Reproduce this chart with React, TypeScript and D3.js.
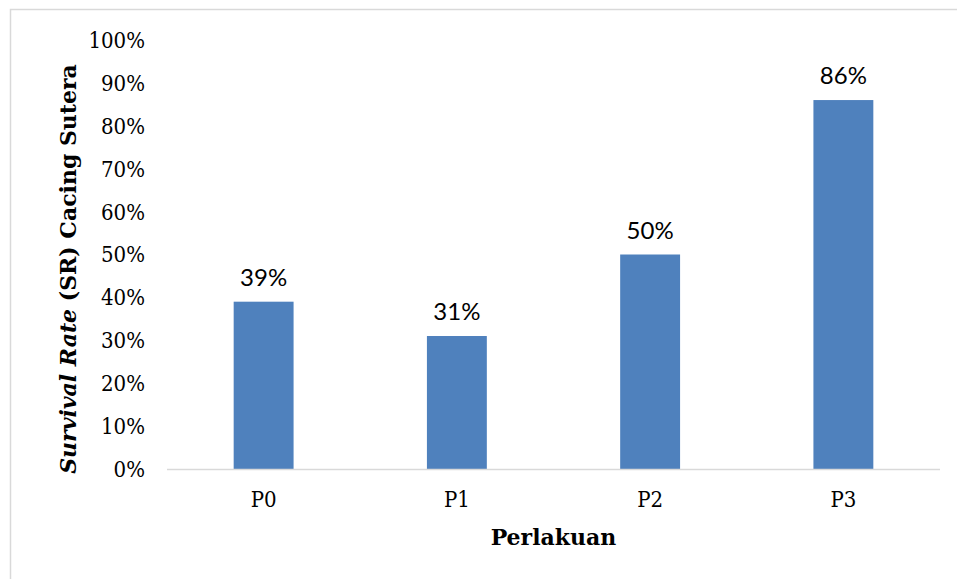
import React, { useEffect, useRef } from 'react';
import * as d3 from 'd3';

// treatments and survival rate of the silk worms
const categories = ['P0', 'P1', 'P2', 'P3'];
const survival = [0.39, 0.31, 0.5, 0.86];
const yTicks = [0, 0.1, 0.2, 0.3, 0.4, 0.5, 0.6, 0.7, 0.8, 0.9, 1];

const W = 957;
const H = 579;

export default function App() {
  const ref = useRef<SVGSVGElement>(null);

  useEffect(() => {
    const svg = d3.select(ref.current);
    svg.selectAll('*').remove();

    // plot area
    const left = 167, right = 940, top = 40, bottom = 469;

    const x = d3.scaleBand().domain(categories).range([left, right]).paddingInner(0.69).paddingOuter(0.345);
    const y = d3.scaleLinear().domain([0, 1]).range([bottom, top]);

    // outer chart border
    svg.append('rect')
      .attr('x', 10.5).attr('y', 9.5)
      .attr('width', 1000).attr('height', 700)
      .attr('fill', 'white').attr('stroke', '#d9d9d9').attr('stroke-width', 1.5);

    // y tick labels
    svg.append('g').selectAll('text')
      .data(yTicks)
      .join('text')
      .attr('x', 145)
      .attr('y', d => y(d))
      .attr('dy', '0.36em')
      .attr('text-anchor', 'end')
      .attr('font-family', 'DejaVu Serif')
      .attr('font-stretch', 'condensed')
      .attr('font-size', 22)
      .attr('fill', '#000')
      .text(d => d3.format('.0%')(d));

    // bars
    svg.append('g').selectAll('rect')
      .data(survival)
      .join('rect')
      .attr('x', (d, i) => x(categories[i])!)
      .attr('y', d => y(d))
      .attr('width', x.bandwidth())
      .attr('height', d => y(0) - y(d))
      .attr('fill', '#4f81bd');

    // baseline
    svg.append('line')
      .attr('x1', left).attr('x2', right)
      .attr('y1', bottom + 0.5).attr('y2', bottom + 0.5)
      .attr('stroke', '#d9d9d9').attr('stroke-width', 1.5);

    // value labels
    svg.append('g').selectAll('text')
      .data(survival)
      .join('text')
      .attr('x', (d, i) => x(categories[i])! + x.bandwidth() / 2)
      .attr('y', d => y(d) - 16)
      .attr('text-anchor', 'middle')
      .attr('font-family', 'Lato')
      .attr('font-size', 24)
      .attr('fill', '#000')
      .text(d => d3.format('.0%')(d));

    // category labels
    svg.append('g').selectAll('text')
      .data(categories)
      .join('text')
      .attr('x', d => x(d)! + x.bandwidth() / 2)
      .attr('y', 507)
      .attr('text-anchor', 'middle')
      .attr('font-family', 'DejaVu Serif')
      .attr('font-stretch', 'condensed')
      .attr('font-size', 22)
      .attr('fill', '#000')
      .text(d => d);

    // x axis title
    svg.append('text')
      .attr('x', (left + right) / 2)
      .attr('y', 545)
      .attr('text-anchor', 'middle')
      .attr('font-family', 'DejaVu Serif')
      .attr('font-weight', 'bold')
      .attr('font-size', 22)
      .text('Perlakuan');

    // y axis title, part italic
    const yt = svg.append('text')
      .attr('transform', 'translate(76,269) rotate(-90)')
      .attr('text-anchor', 'middle')
      .attr('font-family', 'DejaVu Serif')
      .attr('font-weight', 'bold')
      .attr('font-size', 22);
    yt.append('tspan').attr('font-style', 'italic').text('Survival Rate');
    yt.append('tspan').text(' (SR) Cacing Sutera');
  }, []);

  return (
    <svg ref={ref} width={W} height={H} style={{ position: 'absolute', left: 0, top: 0, background: 'white' }} />
  );
}
